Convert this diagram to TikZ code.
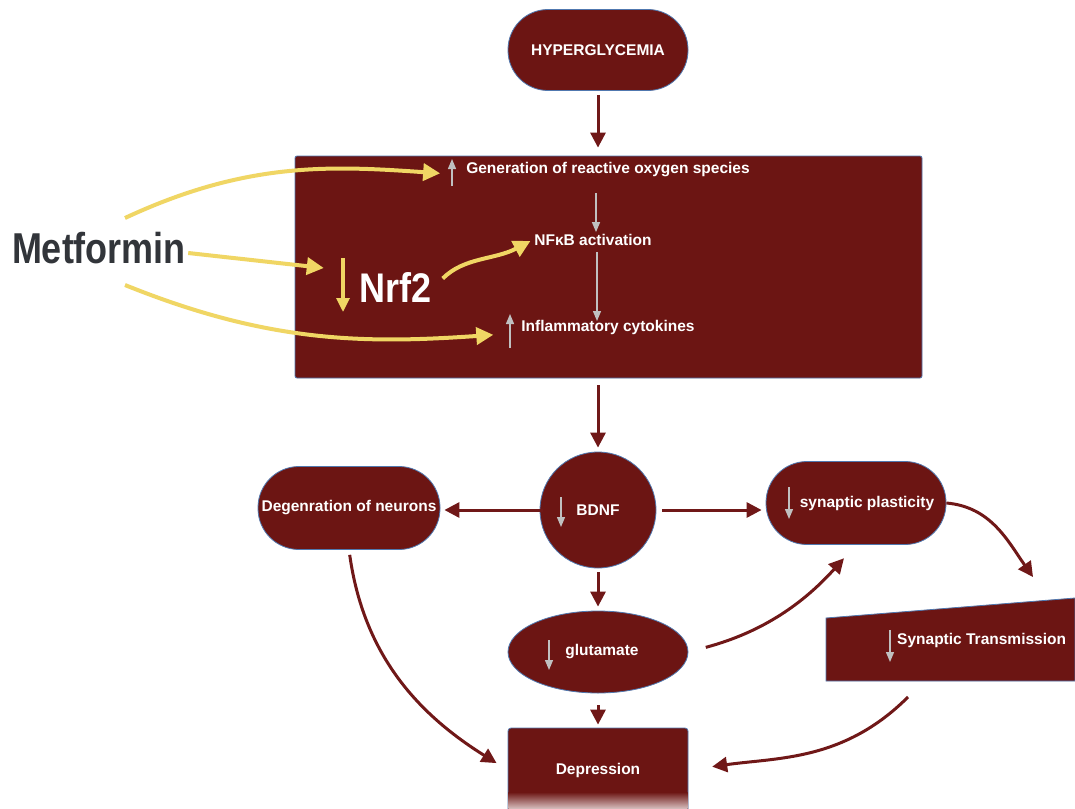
\documentclass[tikz,border=0pt]{standalone}
\usepackage{fontspec}
\setmainfont{Liberation Sans}
\usetikzlibrary{shapes.geometric, arrows.meta, positioning, calc}
\definecolor{maroon}{RGB}{108,21,19}
\definecolor{linkred}{RGB}{112,24,24}
\definecolor{edgeblue}{RGB}{80,120,175}
\definecolor{metyellow}{RGB}{240,214,100}
\definecolor{markgray}{RGB}{192,192,192}
\definecolor{metgray}{RGB}{50,53,58}

\begin{document}
\begin{tikzpicture}[x=1pt, y=1pt,
		every node/.style={font=\bfseries\fontsize{15.5}{18}\selectfont},
		block/.style={draw=edgeblue, line width=0.8pt, fill=maroon, text=white},
		pill/.style={block, rounded corners=40pt, minimum width=180pt, minimum height=81pt},
		plain/.style={text=white, inner sep=2pt},
		link/.style={draw=linkred, line width=3pt, -{Triangle[length=15pt, width=15pt]}, shorten <=4pt, shorten >=4pt},
		yarrow/.style={draw=metyellow, line width=4pt, -{Triangle[length=17pt, width=17pt]}},
		marker/.style={draw=markgray, line width=1.3pt, -{Triangle[length=10pt, width=8pt]}}]
		
		% 1. Canvas
		\useasboundingbox (0,0) rectangle (1075,-808);
		\fill[white] (0,0) rectangle (1075,-808);
		
		% 2. Hyperglycemia and the oxidative stress block
		\node[pill] (hyper) at (598,-50) {HYPERGLYCEMIA};
		\node[block, minimum width=627pt, minimum height=222pt, rounded corners=2pt] (stress) at (608.5,-267) {};
		
		\node[plain] (ros) at (608,-170) {Generation of reactive oxygen species};
		\node[plain] (nfkb) at (593,-240) {NFκB activation};
		\node[plain] (cyto) at (608,-327) {Inflammatory cytokines};
		\node[text=white, inner sep=2pt, font=\bfseries\fontsize{36}{40}\selectfont] (nrf) at (396,-287) {\scalebox{1}[1.15]{Nrf2}};
		\node[text=metgray, inner sep=0pt, font=\bfseries\fontsize{36}{40}\selectfont] (met) at (99,-248) {\scalebox{1}[1.2]{Metformin}};
		
		% up / down marks beside the texts
		\draw[marker] (452,-186) -- (452,-159);
		\draw[marker] (510,-348) -- (510,-314);
		\draw[yarrow, line width=3.2pt, -{Triangle[length=14pt, width=13pt]}] (343,-258) -- (343,-312);
		
		\draw[marker] (596,-193) -- (nfkb.north -| 596,0);
		\draw[marker] (nfkb.south -| 597,0) ++(0,-4) -- (597,-321);
		
		% 3. Metformin actions
		\draw[yarrow, shorten >=24pt] ($(met)+(26,30)$) to[out=25, in=176] ($(ros.west)+(0,-5)$);
		\draw[yarrow] (met.east) ++(2,-5) -- ($(nrf.west)+(-34,19)$);
		\draw[yarrow, shorten >=26pt] ($(met)+(26,-37)$) to[out=-22, in=184] ($(cyto.west)+(0,-6)$);
		\draw[yarrow, shorten <=12pt, shorten >=2pt] (nrf.east) to[out=45, in=208] (nfkb.west);
		
		% 4. Downstream chain
		\node[block, circle, minimum size=116pt] (bdnf) at (598,-510) {BDNF};
		\node[pill, minimum width=182pt, minimum height=83pt, rounded corners=41pt] (degen) at (349,-508) {Degenration of neurons};
		\node[pill, minimum height=83pt, rounded corners=41pt] (synplast) at (856,-503) {\hspace{22pt}synaptic plasticity};
		\node[block, ellipse, minimum width=180pt, minimum height=82pt] (glut) at (598,-652) {\hspace{8pt}glutamate};
		\node[block, minimum width=180pt, minimum height=84pt, rounded corners=3pt] (depr) at (598,-770) {Depression};
		\shade[top color=maroon, bottom color=maroon!30] (508.4,-792) rectangle (687.6,-808);
		
		\draw[block] (826,-618) -- (1075,-598) -- (1075,-681) -- (826,-681) -- cycle;
		\node[plain, anchor=west] (syntrans) at (895,-640) {Synaptic Transmission};
		\coordinate (sttop) at (1033,-577);
		\coordinate (stbot) at (908,-697);
		
		\draw[marker] (561,-497) -- (561,-527);
		\draw[marker] (789,-487) -- (789,-519);
		\draw[marker] (549,-640) -- (549,-670);
		\draw[marker] (890,-630) -- (890,-662);
		
		% 5. Connectors
		\draw[link, shorten >=8pt] (hyper) -- (hyper |- stress.north);
		\draw[link, shorten <=7pt] (stress.south -| bdnf) -- (bdnf);
		\draw[link, shorten <=-3pt] (bdnf.west) -- (bdnf.west -| degen.east);
		\draw[link, shorten <=6pt] (bdnf.east) -- (bdnf.east -| synplast.west);
		\draw[link] (bdnf) -- (glut);
		\draw[link, shorten <=12pt, shorten >=3pt] (glut) -- (depr);
		
		\draw[link, shorten <=0pt, shorten >=0pt] (synplast.east) to[out=-5, in=125] (sttop);
		\draw[link, shorten <=18pt, shorten >=18pt] (glut.east) to[out=15, in=-132] (synplast.south);
		\draw[link, shorten <=5pt, shorten >=13pt] (degen.south) to[out=-82, in=148] (depr.west);
		\draw[link, shorten <=0pt, shorten >=24pt] (stbot) to[out=-135, in=8] (depr.east);
		
	\end{tikzpicture}
\end{document}
